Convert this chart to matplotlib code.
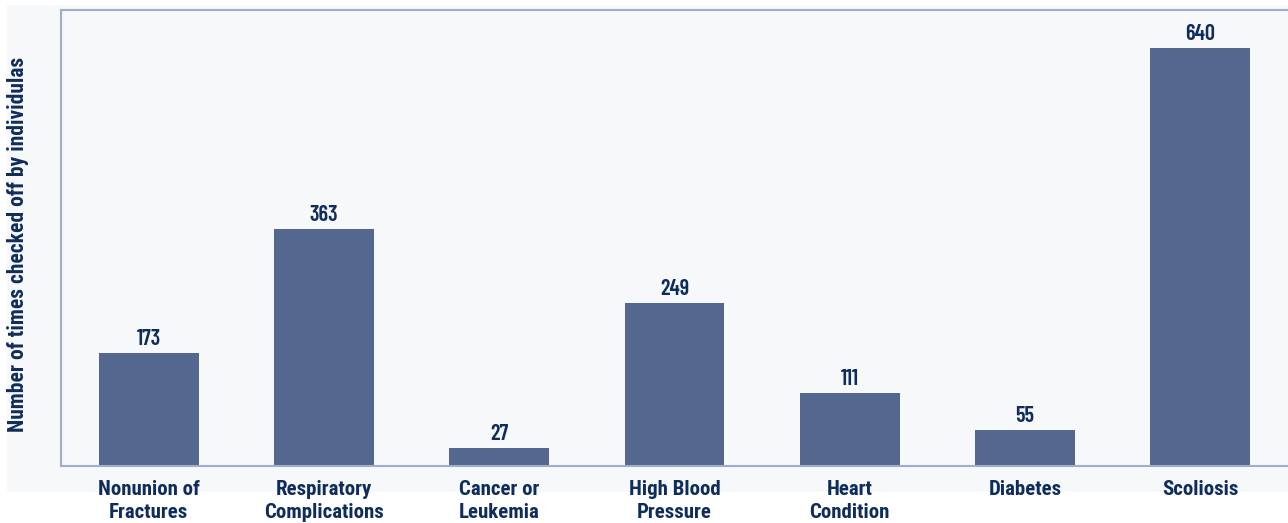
import matplotlib
matplotlib.use("Agg")
import matplotlib.pyplot as plt
from matplotlib.patches import Rectangle

categories = ["Nonunion of\nFractures", "Respiratory\nComplications", "Cancer or\nLeukemia",
              "High Blood\nPressure", "Heart\nCondition", "Diabetes", "Scoliosis"]
values = [173, 363, 27, 249, 111, 55, 640]

NAVY = "#0e2d5c"
BAR = "#54688f"
SPINE = "#9eaecb"
BG = "#f7f8fa"
LABEL_FONT = ["Roboto Condensed", "DejaVu Sans"]
VALUE_FONT = ["Barlow Condensed", "DejaVu Sans"]

fig = plt.figure(figsize=(12.88, 5.23), dpi=100)
fig.patches.append(Rectangle((7/1288, 1-492/523), 1, (492-5)/523, transform=fig.transFigure,
                             facecolor=BG, edgecolor="none", zorder=-10))
ax = fig.add_axes([61/1288, 57/523, 1-61/1288, 456/523])
ax.set_zorder(1)
ax.set_facecolor(BG)
x = list(range(len(values)))
ax.bar(x, values, width=0.57, color=BAR, zorder=2)
ax.set_xlim(-0.5, 6.5)
ax.set_ylim(0, 698)
for xi, v in zip(x, values):
    ax.annotate(str(v), (xi, v), xytext=(0, 3), textcoords="offset points",
                ha="center", va="bottom", fontsize=16, fontweight="semibold",
                color=NAVY, family=VALUE_FONT)
ax.set_xticks(x)
ax.set_xticklabels(categories, fontsize=15, fontweight="bold", color=NAVY,
                   family=LABEL_FONT, linespacing=1.25, va="top")
ax.tick_params(axis="x", length=0, pad=10)
ax.set_yticks([])
for s in ["left", "top", "bottom"]:
    ax.spines[s].set_color(SPINE)
    ax.spines[s].set_linewidth(1.5)
ax.spines["right"].set_visible(False)
fig.text(18/1288, 1-244/523, "Number of times checked off by individulas", rotation=90,
         ha="center", va="center", fontsize=15.5, fontweight="bold", color=NAVY, family=LABEL_FONT)
fig.savefig("out.png", dpi=100)
